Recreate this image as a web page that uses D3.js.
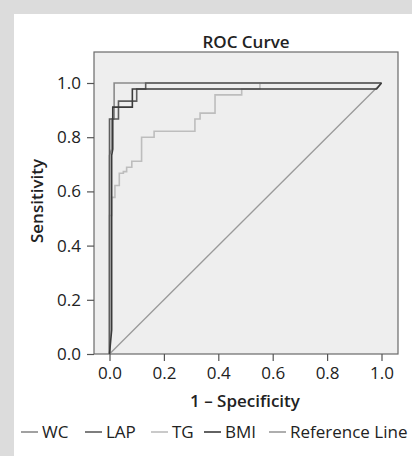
<!DOCTYPE html>
<html>
<head>
<meta charset="utf-8">
<script src="https://cdn.jsdelivr.net/npm/d3@7"></script>
<style>
  body { margin: 0; background: #fff; }
  svg { display: block; font-family: "Open Sans", sans-serif; }
</style>
</head>
<body>
<svg id="chart" width="412" height="456"></svg>
<script>
// ROC data (fpr, tpr)
const seriesNames = ["WC", "LAP", "TG", "BMI"];
const wcPoints = [[0, 0], [0, 0.733], [0.008, 0.756], [0.008, 0.867], [0.017, 0.867], [0.017, 1], [1, 1]];
const lapPoints = [[0, 0], [0, 0.867], [0.033, 0.867], [0.033, 0.933], [0.1, 0.933], [0.1, 0.978], [0.133, 0.978], [0.133, 1], [1, 1]];
const tgPoints = [[0, 0], [0, 0.511], [0.008, 0.511], [0.008, 0.578], [0.02, 0.578], [0.02, 0.622], [0.036, 0.622],
  [0.036, 0.667], [0.051, 0.667], [0.051, 0.673], [0.063, 0.673], [0.063, 0.689], [0.082, 0.689], [0.082, 0.711],
  [0.118, 0.711], [0.118, 0.8], [0.164, 0.8], [0.164, 0.822], [0.314, 0.822], [0.314, 0.867], [0.333, 0.867],
  [0.333, 0.889], [0.388, 0.889], [0.388, 0.956], [0.486, 0.956], [0.486, 0.978], [0.553, 0.978], [0.553, 1], [1, 1]];
const bmiPoints = [[0, 0], [0.008, 0.089], [0.008, 0.733], [0.012, 0.756], [0.012, 0.911], [0.084, 0.911], [0.084, 0.978], [0.982, 0.978], [1, 1]];
const referencePoints = [[0, 0], [1, 1]];
const tickValues = [0, 0.2, 0.4, 0.6, 0.8, 1.0];
const legendLabels = ["WC", "LAP", "TG", "BMI", "Reference Line"];

// styles
const lineColors = { "WC": "#8a8a8a", "LAP": "#5e5e5e", "TG": "#bdbdbd", "BMI": "#3a3a3a", "Reference Line": "#9a9a9a" };

const svg = d3.select("#chart");

// grey page border at top and left
svg.append("rect").attr("x", 0).attr("y", 0).attr("width", 412).attr("height", 14).attr("fill", "#dcdcdc");
svg.append("rect").attr("x", 0).attr("y", 0).attr("width", 14).attr("height", 456).attr("fill", "#dcdcdc");

const x = d3.scaleLinear().domain([0, 1]).range([109.5, 381.5]);
const y = d3.scaleLinear().domain([0, 1]).range([354, 83]);

const frame = { left: 94, right: 398, top: 52, bottom: 354 };

svg.append("rect")
  .attr("x", frame.left).attr("y", frame.top)
  .attr("width", frame.right - frame.left).attr("height", frame.bottom - frame.top)
  .attr("fill", "#eeeeee")
  .attr("stroke", "#6a6a6a").attr("stroke-width", 1.2);

const line = d3.line().x(d => x(d[0])).y(d => y(d[1]));

// reference first, then curves
svg.append("path").datum(referencePoints)
  .attr("d", line).attr("fill", "none")
  .attr("stroke", lineColors["Reference Line"]).attr("stroke-width", 1.3);

const allSeries = [wcPoints, lapPoints, tgPoints, bmiPoints];
[2, 0, 1, 3].forEach(i => {
  svg.append("path").datum(allSeries[i])
    .attr("d", line).attr("fill", "none")
    .attr("stroke", lineColors[seriesNames[i]])
    .attr("stroke-width", 1.6);
});

// axes
const yAxis = svg.append("g").attr("transform", `translate(${frame.left},0)`)
  .call(d3.axisLeft(y).tickValues(tickValues).tickFormat(d3.format(".1f")).tickSizeInner(7).tickSizeOuter(0).tickPadding(6));
const xAxis = svg.append("g").attr("transform", `translate(0,${frame.bottom})`)
  .call(d3.axisBottom(x).tickValues(tickValues).tickFormat(d3.format(".1f")).tickSizeInner(7).tickSizeOuter(0).tickPadding(6));

[yAxis, xAxis].forEach(g => {
  g.select(".domain").remove();
  g.selectAll(".tick line").attr("stroke", "#555").attr("stroke-width", 1.2);
  g.selectAll(".tick text").attr("fill", "#222").style("font-size", "17px").style("font-family", "Open Sans, sans-serif");
});

// titles
svg.append("text").attr("x", 246).attr("y", 48).attr("text-anchor", "middle")
  .style("font-size", "17px").style("font-weight", 600).attr("fill", "#222").text("ROC Curve");
svg.append("text").attr("x", 245).attr("y", 407).attr("text-anchor", "middle")
  .style("font-size", "17px").style("font-weight", 600).attr("fill", "#222").text("1 – Specificity");
svg.append("text").attr("transform", "translate(43,201) rotate(-90)").attr("text-anchor", "middle")
  .style("font-size", "17px").style("font-weight", 600).attr("fill", "#222").text("Sensitivity");

// legend
const legendX = [21, 85, 151, 204, 269];
const legend = svg.append("g");
legendLabels.forEach((name, i) => {
  const g = legend.append("g").attr("transform", `translate(${legendX[i]},432)`);
  g.append("line").attr("x1", 0).attr("x2", 17).attr("y1", 0).attr("y2", 0)
    .attr("stroke", lineColors[name]).attr("stroke-width", 1.6);
  g.append("text").attr("x", 21).attr("y", 6)
    .style("font-size", "17px").attr("fill", "#222").text(name);
});
</script>
</body>
</html>
